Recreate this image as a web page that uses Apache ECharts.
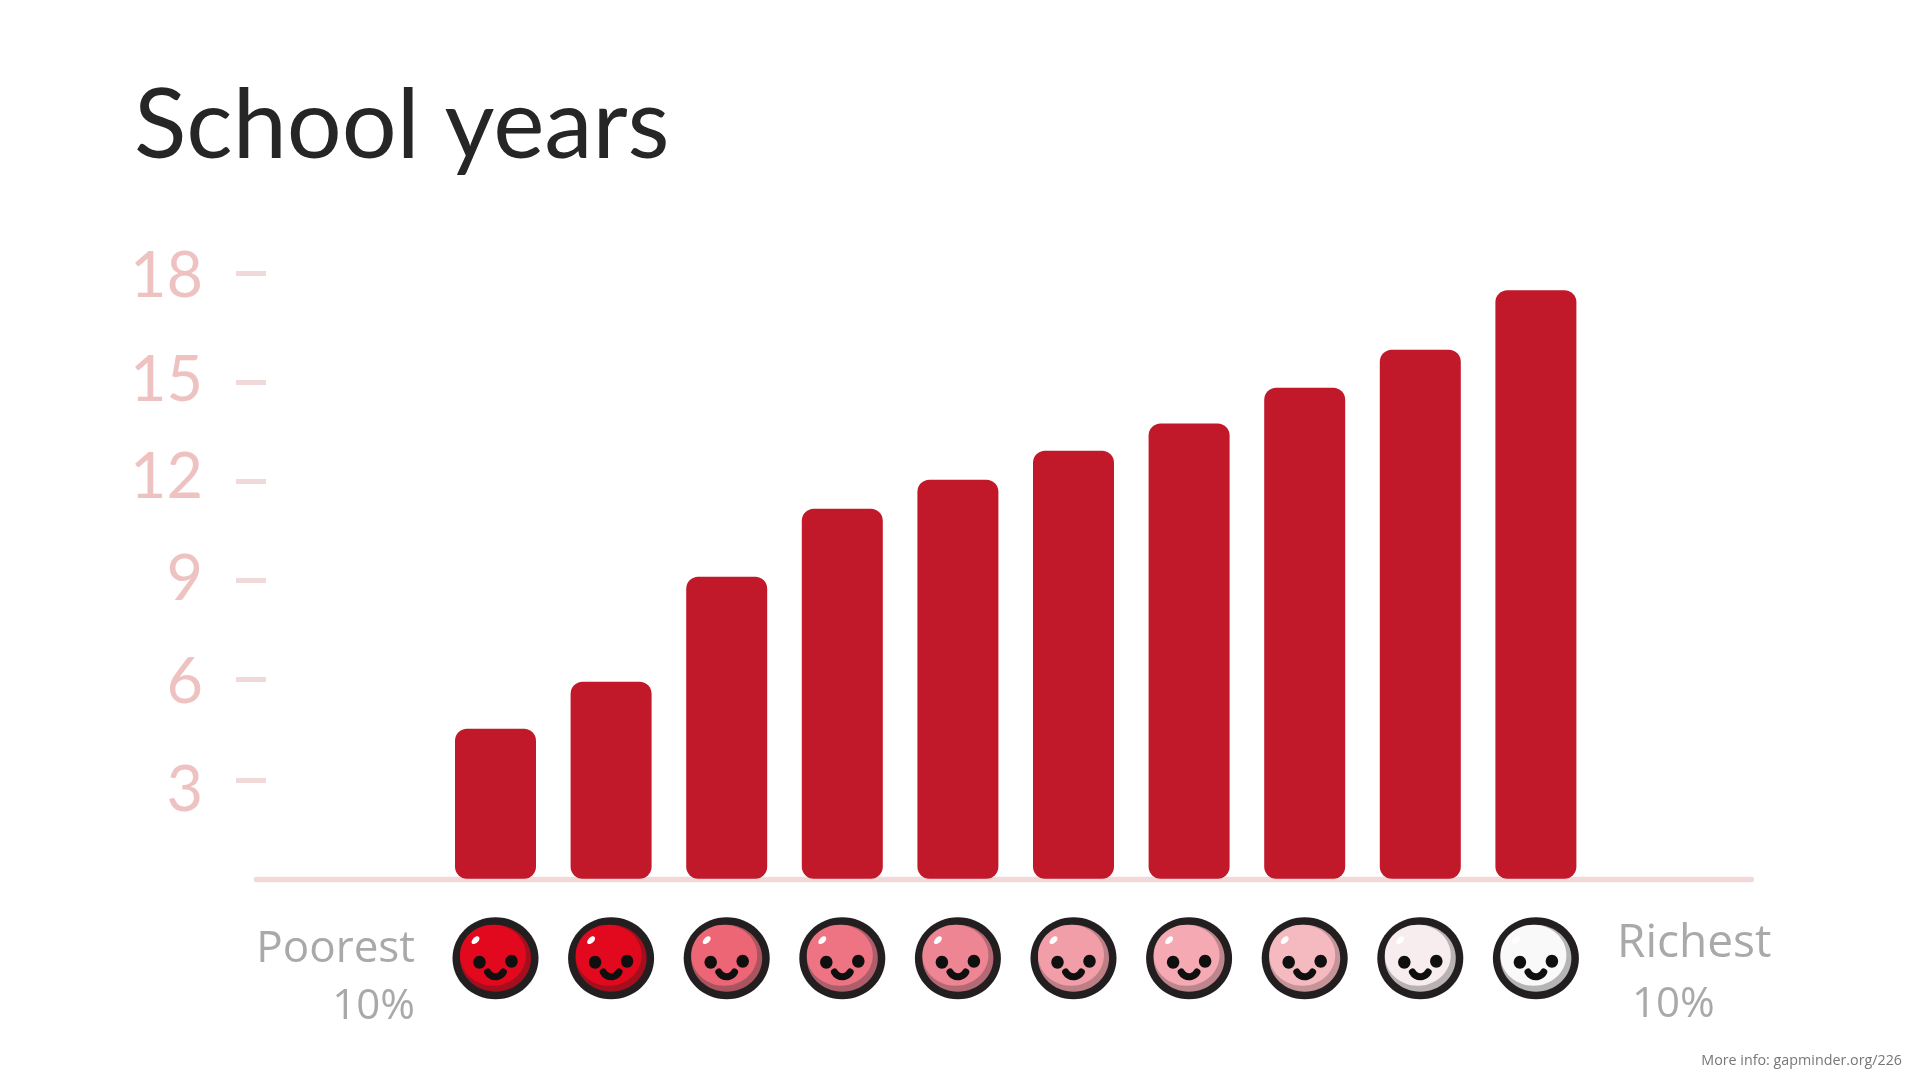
<!DOCTYPE html>
<html><head><meta charset="utf-8">
<style>html,body{margin:0;padding:0;background:#fff}#c{width:1920px;height:1080px}</style>
<script src="https://cdn.jsdelivr.net/npm/echarts@6/dist/echarts.min.js"></script>
</head><body><div id="c"></div>
<script>
// Data
const categories = ['1','2','3','4','5','6','7','8','9','10'];
const schoolYears = [4.53, 5.95, 9.12, 11.18, 12.05, 12.93, 13.75, 14.83, 15.98, 17.78];
const yTickLabels = ['3','6','9','12','15','18'];
// Where the reference places its hand-drawn ticks and labels on the value scale
const yTickPositions = [2.98, 6.015, 9.01, 12.02, 15.0, 18.3];
const yLabelPositions = [2.65, 5.92, 9.03, 12.11, 15.04, 18.19];
// Styling
const facePalette = ['#e2091f','#e2091f','#ec6675','#ef7483','#ee8593','#f29ea8','#f4a9b3','#f5bac0','#f7edef','#f9f9f9'];
const shadePalette = ['#a30f1d','#a30f1d','#a9555f','#ac5f6a','#b36a74','#bd7f86','#bd858c','#c49499','#b9b2b3','#b5b5b5'];
const TITLE_FONT = 'Lato';
const SIDE_FONT = '"Open Sans"';

function renderFace(params, api) {
  const i = api.value(0);
  const p = api.coord([i, 0]);
  const dark = '#231f20', ink = '#0f0f0f';
  const cx = p[0], cy = p[1] + 79.5;
  const e = (x, y, rx, ry, fill, rot) => ({type:'ellipse', x:x, y:y, rotation:rot||0,
    shape:{cx:0, cy:0, rx:rx, ry:ry}, style:{fill:fill}});
  return {
    type:'group', x:cx, y:cy,
    children:[
      e(0, 0, 43, 41, dark),
      e(0, 0, 35.5, 33.5, shadePalette[i]),
      e(-2.5, -3, 33, 30.5, facePalette[i]),
      e(-20, -18, 4.8, 2.8, '#ffffff', 0.75),
      e(-16, 4, 6.2, 6.5, ink),
      e(16, 3, 6.2, 6.5, ink),
      {type:'arc', shape:{cx:0, cy:9.5, r:9, startAngle:0.5, endAngle:Math.PI-0.5, clockwise:true},
       style:{stroke:ink, fill:null, lineWidth:7, lineCap:'round'}}
    ]
  };
}

const chart = echarts.init(document.getElementById('c'), null, {renderer:'canvas', width:1920, height:1080});
const T = (text, pos, top, size, color, font, weight) => Object.assign({
  text:text, top:top, padding:0,
  textStyle:{fontFamily:font, fontSize:size, color:color, fontWeight:weight||'normal'}
}, pos);
const BAR_COLOR = '#c1192a', AXIS_COLOR = '#f2d9d9', SIDE_COLOR = '#a9a9a9';
chart.setOption({
  animation:false,
  backgroundColor:'#fff',
  title:[
    T('School years', {left:134}, 78, 97, '#262626', TITLE_FONT),
    T('Poorest', {right:1505}, 927, 44, SIDE_COLOR, SIDE_FONT),
    T('10%', {right:1505}, 986, 42, SIDE_COLOR, SIDE_FONT),
    T('Richest', {left:1617}, 921, 46, SIDE_COLOR, SIDE_FONT),
    T('10%', {left:1632}, 984, 42, SIDE_COLOR, SIDE_FONT),
    T('More info: gapminder.org/226', {right:18}, 1054, 14.3, '#777777', SIDE_FONT)
  ],
  grid:[
    {left:437.7, width:1156, top:216.7, height:662},
    {left:256.4, width:1495, top:216.7, height:662.6}
  ],
  xAxis:[
    {type:'category', gridIndex:0, data:categories, axisLine:{show:false}, axisTick:{show:false}, axisLabel:{show:false}},
    {type:'value', gridIndex:1, min:0, max:1, axisLine:{show:true, lineStyle:{color:AXIS_COLOR, width:5.3}},
     axisTick:{show:false}, axisLabel:{show:false}, splitLine:{show:false}}
  ],
  yAxis:[
    {type:'value', gridIndex:0, min:0, max:20, position:'left', offset:171.7,
     axisLine:{show:false}, splitLine:{show:false},
     axisTick:{show:true, length:30, customValues:yTickPositions, lineStyle:{color:AXIS_COLOR, width:5}},
     axisLabel:{show:true, margin:63, customValues:yLabelPositions,
       formatter:(v)=>yTickLabels[yLabelPositions.indexOf(v)],
       color:'#efc2c2', fontSize:63, fontFamily:TITLE_FONT}},
    {type:'value', gridIndex:1, min:0, max:1, show:false}
  ],
  series:[
    {type:'bar', xAxisIndex:0, yAxisIndex:0, data:schoolYears, barWidth:81, z:3,
     itemStyle:{color:BAR_COLOR, borderRadius:12}},
    {type:'custom', xAxisIndex:0, yAxisIndex:0, renderItem:renderFace, z:4, clip:false,
     encode:{x:0, y:1}, data:categories.map((c,i)=>[i,0])}
  ]
});
</script></body></html>
